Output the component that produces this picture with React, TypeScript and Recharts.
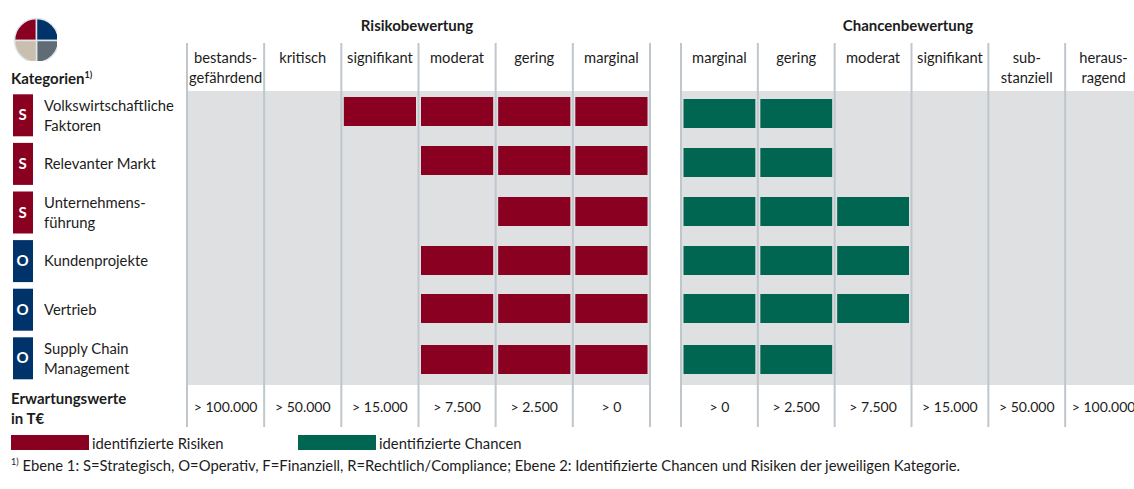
import { BarChart, Bar, XAxis, YAxis, CartesianGrid, ReferenceLine, PieChart, Pie, Cell } from 'recharts';

// Brand colours
const RED = '#8a0020';
const GREEN = '#006651';
const NAVY = '#00336a';
const BAND = '#dfe0e2';
const RULE = '#bfc7cd';
const INK = '#1c1c1c';
const FONT = 'Lato, sans-serif';

const categories = [
  'Volkswirtschaftliche\nFaktoren',
  'Relevanter Markt',
  'Unternehmens-\nführung',
  'Kundenprojekte',
  'Vertrieb',
  'Supply Chain\nManagement',
];
const categoryLevels = ['S', 'S', 'S', 'O', 'O', 'O'];

// Columns count outwards from the centre of the figure
const riskHeaders = ['marginal', 'gering', 'moderat', 'signifikant', 'kritisch', 'bestands-\ngefährdend'];
const riskExpected = ['> 0', '> 2.500', '> 7.500', '> 15.000', '> 50.000', '> 100.000'];
const chanceHeaders = ['marginal', 'gering', 'moderat', 'signifikant', 'sub-\nstanziell', 'heraus-\nragend'];
const chanceExpected = ['> 0', '> 2.500', '> 7.500', '> 15.000', '> 50.000', '> 100.000'];

// 1 = cell is filled
const riskMarginal = [1, 1, 1, 1, 1, 1];
const riskGering = [1, 1, 1, 1, 1, 1];
const riskModerat = [1, 1, 0, 1, 1, 1];
const riskSignifikant = [1, 0, 0, 0, 0, 0];
const chanceMarginal = [1, 1, 1, 1, 1, 1];
const chanceGering = [1, 1, 1, 1, 1, 1];
const chanceModerat = [0, 0, 1, 1, 1, 0];

const logoSlices = [
  { name: 'Strategisch', value: 1, color: RED },
  { name: 'Operativ', value: 1, color: NAVY },
  { name: 'Rechtlich', value: 1, color: '#5f6b75' },
  { name: 'Finanziell', value: 1, color: '#c9bfae' },
];

const riskData = categories.map((name, i) => ({
  name,
  marginal: riskMarginal[i],
  gering: riskGering[i],
  moderat: riskModerat[i],
  signifikant: riskSignifikant[i],
}));

const chanceData = categories.map((name, i) => ({
  name,
  marginal: chanceMarginal[i],
  gering: chanceGering[i],
  moderat: chanceModerat[i],
}));

const CENTRES = [0.5, 1.5, 2.5, 3.5, 4.5, 5.5];
const EDGES = [0, 1, 2, 3, 4, 5, 6];
const PLOT_TOP = 91;
const PLOT_BOTTOM = 385;
const RULE_TOP = 43;
const RULE_BOTTOM = 427;
const CHART_HEIGHT = 489;

// The bars in the reference do not sit quite centred in their rows
const RISK_NUDGE = [-3.8, -3.4, -1, -0.6, -1.2, 1.2];
const CHANCE_NUDGE = [-1.8, -1.4, -1, -0.6, -1.2, 1.2];

// Bar cell with a small gap to the column rule and the row's nudge.
// On the reversed risk axis the width comes in negative.
function cellShape(fill: string, nudge: number[]) {
  return (props: any) => {
    const { x, y, width, height, index } = props;
    if (!width) return null;
    const left = Math.min(x, x + width);
    return <rect x={left + 2.5} y={Math.round(y + nudge[index])} width={Math.abs(width) - 5} height={height} fill={fill} />;
  };
}

function ruleShape(props: any) {
  return <line x1={props.x1} x2={props.x2} y1={RULE_TOP} y2={RULE_BOTTOM} stroke={RULE} strokeWidth={2} />;
}

// One axis carries both the column header and the expected value below the band
function ColumnTick({ x, payload, headers, expected }: any) {
  const index = Math.floor(payload.value);
  const lines = headers[index].split('\n');
  return (
    <g fontFamily={FONT} fill={INK} textAnchor="middle">
      <text fontSize={14.7}>
        {lines.map((line: string, i: number) => (
          <tspan key={line} x={x} y={63 + i * 20}>{line}</tspan>
        ))}
      </text>
      <text x={x} y={412} fontSize={14}>{expected[index]}</text>
    </g>
  );
}

function CategoryTick({ y, payload }: any) {
  const index = categories.indexOf(payload.value);
  const lines = payload.value.split('\n');
  const fill = categoryLevels[index] === 'S' ? RED : NAVY;
  const firstY = lines.length === 1 ? y + 5 : y - 4.5;
  return (
    <g fontFamily={FONT} fontSize={14.8} fill={INK}>
      <rect x={13} y={y - 21} width={20} height={42} fill={fill} />
      <text x={22.5} y={y + 5} textAnchor="middle" fontWeight={700} fontSize={15} fill="#fff">
        {categoryLevels[index]}
      </text>
      <text>
        {lines.map((line: string, i: number) => (
          <tspan key={line} x={44} y={firstY + i * 20}>{line}</tspan>
        ))}
      </text>
    </g>
  );
}

const textStyle = { position: 'absolute', fontFamily: FONT, color: INK, whiteSpace: 'nowrap' } as const;

export default function App() {
  return (
    <div style={{ position: 'absolute', left: 0, top: 0, width: 1134, height: 489, overflow: 'hidden', background: '#fff' }}>
      <div style={{ position: 'absolute', left: 5.5, top: 9.5 }}>
        <PieChart width={51} height={51}>
          <Pie
            data={logoSlices}
            dataKey="value"
            cx={25.5}
            cy={25.5}
            outerRadius={22}
            startAngle={180}
            endAngle={-180}
            stroke="#dfe5ea"
            strokeWidth={1.5}
            isAnimationActive={false}
          >
            {logoSlices.map((s) => <Cell key={s.name} fill={s.color} />)}
          </Pie>
        </PieChart>
      </div>

      <div style={{ position: 'absolute', left: 0, top: 0 }}>
        <BarChart
          width={660}
          height={CHART_HEIGHT}
          data={riskData}
          layout="vertical"
          barSize={29}
          margin={{ top: PLOT_TOP - 40, right: 10, bottom: CHART_HEIGHT - PLOT_BOTTOM, left: 0 }}
        >
          <CartesianGrid horizontal={false} vertical={false} fill={BAND} />
          <XAxis orientation="top" type="number" reversed domain={[0, 6]} ticks={CENTRES} interval={0} height={40}
            axisLine={false} tickLine={false} tick={<ColumnTick headers={riskHeaders} expected={riskExpected} />} />
          <YAxis type="category" dataKey="name" width={187} axisLine={false} tickLine={false} interval={0}
            padding={{ top: 0, bottom: 2.4 }} tick={<CategoryTick />} />
          <Bar dataKey="marginal" stackId="r" shape={cellShape(RED, RISK_NUDGE)} isAnimationActive={false} />
          <Bar dataKey="gering" stackId="r" shape={cellShape(RED, RISK_NUDGE)} isAnimationActive={false} />
          <Bar dataKey="moderat" stackId="r" shape={cellShape(RED, RISK_NUDGE)} isAnimationActive={false} />
          <Bar dataKey="signifikant" stackId="r" shape={cellShape(RED, RISK_NUDGE)} isAnimationActive={false} />
          {EDGES.map((edge) => (
            <ReferenceLine key={edge} x={edge} shape={ruleShape} />
          ))}
        </BarChart>
      </div>

      <div style={{ position: 'absolute', left: 671, top: 0 }}>
        <BarChart
          width={481}
          height={CHART_HEIGHT}
          data={chanceData}
          layout="vertical"
          barSize={29}
          margin={{ top: PLOT_TOP - 40, right: 10, bottom: CHART_HEIGHT - PLOT_BOTTOM, left: 10 }}
        >
          <CartesianGrid horizontal={false} vertical={false} fill={BAND} />
          <XAxis orientation="top" type="number" domain={[0, 6]} ticks={CENTRES} interval={0} height={40}
            axisLine={false} tickLine={false} tick={<ColumnTick headers={chanceHeaders} expected={chanceExpected} />} />
          <YAxis type="category" dataKey="name" hide padding={{ top: 0, bottom: 2.4 }} />
          <Bar dataKey="marginal" stackId="c" shape={cellShape(GREEN, CHANCE_NUDGE)} isAnimationActive={false} />
          <Bar dataKey="gering" stackId="c" shape={cellShape(GREEN, CHANCE_NUDGE)} isAnimationActive={false} />
          <Bar dataKey="moderat" stackId="c" shape={cellShape(GREEN, CHANCE_NUDGE)} isAnimationActive={false} />
          {EDGES.map((edge) => (
            <ReferenceLine key={edge} x={edge} shape={ruleShape} />
          ))}
        </BarChart>
      </div>

      <div style={{ ...textStyle, left: 307, width: 220, top: 16, textAlign: 'center', fontWeight: 700, fontSize: 15 }}>Risikobewertung</div>
      <div style={{ ...textStyle, left: 798, width: 220, top: 16, textAlign: 'center', fontWeight: 700, fontSize: 15 }}>Chancenbewertung</div>
      <div style={{ ...textStyle, left: 11, top: 69, fontWeight: 700, fontSize: 15 }}>
        Kategorien<sup style={{ fontSize: 9, lineHeight: 0 }}>1)</sup>
      </div>
      <div style={{ ...textStyle, left: 11, top: 388, fontWeight: 700, fontSize: 15, lineHeight: '20px' }}>
        Erwartungswerte<br />in T€
      </div>

      <div style={{ position: 'absolute', left: 11, top: 435, width: 78, height: 15, background: RED }} />
      <div style={{ ...textStyle, left: 92, top: 434, fontSize: 14.8 }}>identifizierte Risiken</div>
      <div style={{ position: 'absolute', left: 298, top: 435, width: 78, height: 15, background: GREEN }} />
      <div style={{ ...textStyle, left: 379, top: 434, fontSize: 14.8 }}>identifizierte Chancen</div>
      <div style={{ ...textStyle, left: 11, top: 456, fontSize: 14.8 }}>
        <sup style={{ fontSize: 9, lineHeight: 0 }}>1)</sup> Ebene 1: S=Strategisch, O=Operativ, F=Finanziell, R=Rechtlich/Compliance; Ebene 2: Identifizierte Chancen und Risiken der jeweiligen Kategorie.
      </div>
    </div>
  );
}
